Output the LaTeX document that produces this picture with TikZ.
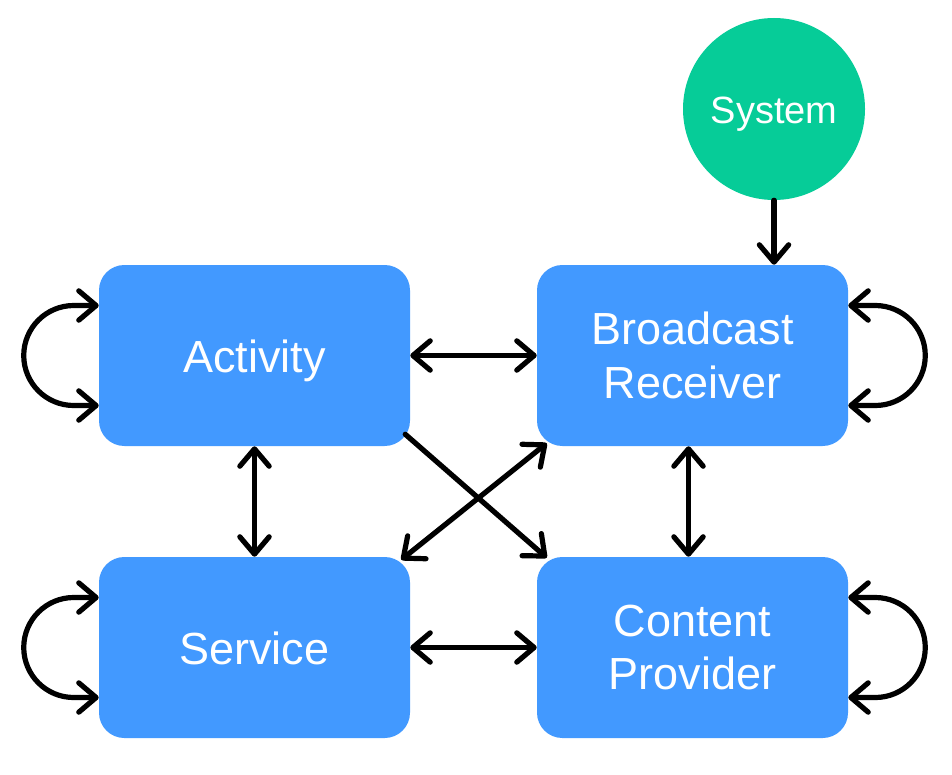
\documentclass[tikz,border=0pt]{standalone}
\usepackage{fontspec}
\setmainfont{Liberation Sans}
\usetikzlibrary{arrows.meta,calc}
\definecolor{boxblue}{RGB}{66,153,255}
\definecolor{sysgreen}{RGB}{6,204,152}
\tikzset{
  box/.style={draw=none, fill=boxblue, rounded corners=19pt, minimum width=233.25pt, minimum height=135.75pt, inner sep=0pt, text=white, align=center, font=\fontsize{33.75}{40}\selectfont},
  oneline/.style={text height=26pt, text depth=0pt},
  sysnode/.style={circle, fill=sysgreen, minimum size=136.5pt, inner sep=0pt, text=white, font=\fontsize{28.5}{34}\selectfont, text height=22pt, text depth=0pt},
  con/.style={line width=3.9pt, line cap=round, black},
  tipend/.style={con, -{Straight Barb[length=13pt,width=22pt,round]}},
  tipboth/.style={con, {Straight Barb[length=13pt,width=22pt,round]}-{Straight Barb[length=13pt,width=22pt,round]}}
}
\begin{document}
\begin{tikzpicture}[x=0.75pt,y=-0.75pt]
\useasboundingbox (0,0) rectangle (952,774);
\node[box,oneline] (act) at (254.5,355.5) {Activity};
\node[box] (br) at (692.5,355.5) {Broadcast\\Receiver};
\node[box,oneline] (svc) at (254.5,647.5) {Service};
\node[box] (cp) at (692.5,647.5) {Content\\Provider};
\node[sysnode] (sys) at (774,109) {System};
% system arrow
\draw[tipend] (sys.south) -- (sys.south |- br.north);
% horizontal
\draw[tipboth] (act.east) -- (br.west);
\draw[tipboth] (svc.east) -- (cp.west);
% vertical
\draw[tipboth] (act.south) -- (svc.north);
\draw[tipboth] ($(br.south)+(-4,0)$) -- ($(cp.north)+(-4,0)$);
% diagonals
\draw[tipend] ($(act.south east)+(-5,-12)$) -- ($(cp.north west)+(10,1)$);
\draw[tipboth] ($(br.south west)+(10,-3)$) -- ($(svc.north east)+(-9,3)$);
% self loops left
\foreach \n in {act,svc}{
  \draw[tipboth] ($(\n.west)+(0,-50)$) -- ++(-25,0) arc[start angle=270, end angle=90, radius=50] -- ($(\n.west)+(0,50)$);
}
% self loops right
\foreach \n in {br,cp}{
  \draw[tipboth] ($(\n.east)+(0,-50)$) -- ++(27,0) arc[start angle=-90, end angle=90, radius=50] -- ($(\n.east)+(0,50)$);
}
\end{tikzpicture}
\end{document}
